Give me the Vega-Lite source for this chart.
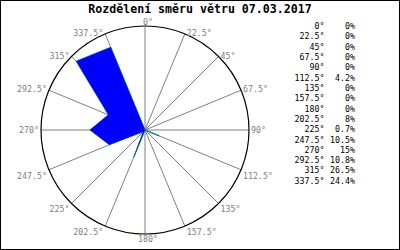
{
  "$schema": "https://vega.github.io/schema/vega-lite/v6.json",
  "width": 400,
  "height": 250,
  "padding": 0,
  "autosize": {"type": "none"},
  "background": "white",
  "view": {"stroke": "black", "strokeWidth": 2},
  "title": {"text": "Rozdělení směru větru 07.03.2017", "font": "DejaVu Sans Mono", "fontSize": 11.6, "fontWeight": "bold", "color": "black", "anchor": "middle", "frame": "bounds", "offset": 0, "dy": 25, "baseline": "alphabetic"},
  "config": {"axis": {"disable": true}, "text": {"font": "DejaVu Sans Mono"}},
  "data": {"values": [
    {"dir": 0, "label": "0°", "pct": 0, "pctText": "0%"},
    {"dir": 22.5, "label": "22.5°", "pct": 0, "pctText": "0%"},
    {"dir": 45, "label": "45°", "pct": 0, "pctText": "0%"},
    {"dir": 67.5, "label": "67.5°", "pct": 0, "pctText": "0%"},
    {"dir": 90, "label": "90°", "pct": 0, "pctText": "0%"},
    {"dir": 112.5, "label": "112.5°", "pct": 4.2, "pctText": "4.2%"},
    {"dir": 135, "label": "135°", "pct": 0, "pctText": "0%"},
    {"dir": 157.5, "label": "157.5°", "pct": 0, "pctText": "0%"},
    {"dir": 180, "label": "180°", "pct": 0, "pctText": "0%"},
    {"dir": 202.5, "label": "202.5°", "pct": 8, "pctText": "8%"},
    {"dir": 225, "label": "225°", "pct": 0.7, "pctText": "0.7%"},
    {"dir": 247.5, "label": "247.5°", "pct": 10.5, "pctText": "10.5%"},
    {"dir": 270, "label": "270°", "pct": 15, "pctText": "15%"},
    {"dir": 292.5, "label": "292.5°", "pct": 10.8, "pctText": "10.8%"},
    {"dir": 315, "label": "315°", "pct": 26.5, "pctText": "26.5%"},
    {"dir": 337.5, "label": "337.5°", "pct": 24.4, "pctText": "24.4%"}
  ]},
  "layer": [
    {
      "transform": [
        {"calculate": "datum.dir * PI / 180", "as": "rad"},
        {"calculate": "28.3 * sin(datum.rad)", "as": "ex"},
        {"calculate": "28.3 * cos(datum.rad)", "as": "ey"},
        {"calculate": "datum.pct * sin(datum.rad)", "as": "px"},
        {"calculate": "datum.pct * cos(datum.rad)", "as": "py"},
        {"calculate": "datum.ey - (datum.dir == 0 ? -4.9 : datum.dir == 180 ? 4.9 : datum.ey > 0.5 ? -1.2 : datum.ey < -0.5 ? 5.3 : 0) / 3.675", "as": "ly"}
      ],
      "layer": [
        {
          "mark": {"type": "rule", "color": "#808080", "strokeWidth": 1},
          "encoding": {
            "x": {"field": "ex", "type": "quantitative", "scale": {"domain": [-39.456, 69.388], "nice": false, "zero": false}, "axis": null},
            "y": {"field": "ey", "type": "quantitative", "scale": {"domain": [-32.653, 35.374], "nice": false, "zero": false}, "axis": null},
            "x2": {"datum": 0},
            "y2": {"datum": 0}
          }
        },
        {
          "data": {"values": [{"c": 0}]},
          "mark": {"type": "point", "shape": "circle", "size": 43264, "filled": false, "stroke": "black", "strokeWidth": 1.2, "opacity": 1},
          "encoding": {
            "x": {"field": "c", "type": "quantitative"},
            "y": {"field": "c", "type": "quantitative"}
          }
        },
        {
          "mark": {"type": "line", "interpolate": "linear-closed", "stroke": "#00ff00", "strokeWidth": 0.8},
          "encoding": {
            "x": {"field": "px", "type": "quantitative"},
            "y": {"field": "py", "type": "quantitative"},
            "order": {"field": "dir", "type": "quantitative"}
          }
        },
        {
          "mark": {"type": "line", "interpolate": "linear-closed", "fill": "#0000ff", "stroke": "#0000ff", "strokeWidth": 0.35},
          "encoding": {
            "x": {"field": "px", "type": "quantitative"},
            "y": {"field": "py", "type": "quantitative"},
            "order": {"field": "dir", "type": "quantitative"}
          }
        },
        {
          "transform": [{"filter": "datum.dir > 0 && datum.dir < 180"}],
          "mark": {"type": "text", "align": "left", "baseline": "middle", "dx": 2, "dy": 1.5, "fontSize": 8.3, "color": "#808080"},
          "encoding": {
            "x": {"field": "ex", "type": "quantitative"},
            "y": {"field": "ly", "type": "quantitative"},
            "text": {"field": "label"}
          }
        },
        {
          "transform": [{"filter": "datum.dir > 180"}],
          "mark": {"type": "text", "align": "right", "baseline": "middle", "dx": -2, "dy": 1.5, "fontSize": 8.3, "color": "#808080"},
          "encoding": {
            "x": {"field": "ex", "type": "quantitative"},
            "y": {"field": "ly", "type": "quantitative"},
            "text": {"field": "label"}
          }
        },
        {
          "transform": [{"filter": "datum.dir == 0 || datum.dir == 180"}],
          "mark": {"type": "text", "align": "center", "baseline": "middle", "dx": 3, "dy": 1.5, "fontSize": 8.3, "color": "#808080"},
          "encoding": {
            "x": {"field": "ex", "type": "quantitative"},
            "y": {"field": "ly", "type": "quantitative"},
            "text": {"field": "label"}
          }
        }
      ]
    },
    {
      "encoding": {
        "y": {"field": "dir", "type": "quantitative", "scale": {"domain": [-55.6, 489.5], "reverse": true, "nice": false, "zero": false}, "axis": null}
      },
      "layer": [
        {
          "mark": {"type": "text", "align": "right", "baseline": "middle", "dy": 1.5, "fontSize": 8.3, "color": "black"},
          "encoding": {"x": {"datum": 48.84, "type": "quantitative"}, "text": {"field": "label"}}
        },
        {
          "mark": {"type": "text", "align": "right", "baseline": "middle", "dy": 1.5, "fontSize": 8.3, "color": "black"},
          "encoding": {"x": {"datum": 57.14, "type": "quantitative"}, "text": {"field": "pctText"}}
        }
      ]
    }
  ],
  "resolve": {"scale": {"y": "independent"}}
}
